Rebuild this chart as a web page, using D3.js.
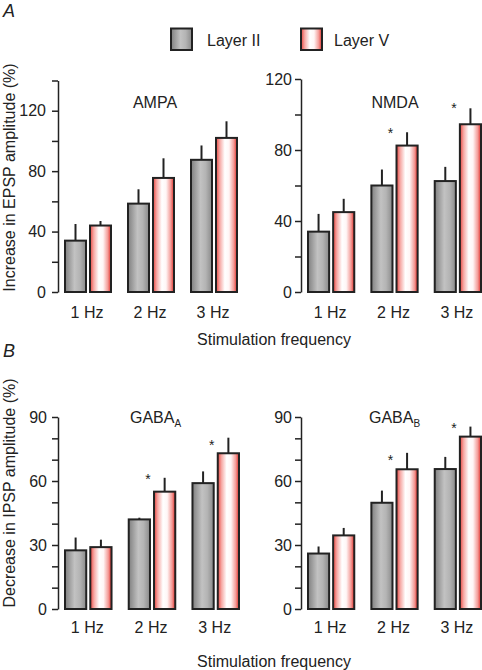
<!DOCTYPE html>
<html>
<head>
<meta charset="utf-8">
<script src="https://cdn.jsdelivr.net/npm/d3@7"></script>
<style>
  html, body { margin: 0; padding: 0; background: #fff; }
  svg { display: block; }
  text { font-family: "Liberation Sans", Arial, sans-serif; fill: #222; }
</style>
</head>
<body>
<svg id="chart" width="482" height="670"></svg>
<script>
// ---------- data ----------
const categories = ["1 Hz", "2 Hz", "3 Hz"];
const seriesNames = ["Layer II", "Layer V"];

const ampaL2    = [34, 58.5, 87.5];
const ampaL2Err = [45, 68, 97];
const ampaL5    = [44, 75.5, 102];
const ampaL5Err = [47, 88.5, 113];
const ampaSig   = [null, null, null];

const nmdaL2    = [34, 60, 62.5];
const nmdaL2Err = [44, 69, 70.5];
const nmdaL5    = [45, 82.5, 94.5];
const nmdaL5Err = [52.5, 90, 103.5];
const nmdaSig   = [null, 91.3, 105.4];

const gabaAL2    = [27.5, 42, 59];
const gabaAL2Err = [33.5, 42.8, 64.5];
const gabaAL5    = [29, 55, 73];
const gabaAL5Err = [32.5, 61.5, 80.3];
const gabaASig   = [null, 62.3, 78.3];

const gabaBL2    = [26, 49.8, 65.6];
const gabaBL2Err = [29.3, 55.5, 71.3];
const gabaBL5    = [34.5, 65.5, 80.8];
const gabaBL5Err = [38, 73.2, 85.5];
const gabaBSig   = [null, 71.3, 86.3];

const yTicksA1 = d3.range(0, 141, 20), yLabelsA1 = [0, 40, 80, 120];
const yTicksA2 = d3.range(0, 121, 20), yLabelsA2 = [0, 40, 80, 120];
const yTicksB  = d3.range(0, 91, 10),  yLabelsB  = [0, 30, 60, 90];

// ---------- drawing ----------
const svg = d3.select("#chart");
const FONT = 16;
const defs = svg.append("defs");

const g1 = defs.append("linearGradient").attr("id", "gradGray")
  .attr("x1", 0).attr("x2", 1).attr("y1", 0).attr("y2", 0);
[[0, "#808080"], [0.45, "#c2c2c2"], [0.7, "#b4b4b4"], [1, "#8a8a8a"]]
  .forEach(([o, c]) => g1.append("stop").attr("offset", o).attr("stop-color", c));
const g2 = defs.append("linearGradient").attr("id", "gradRed")
  .attr("x1", 0).attr("x2", 1).attr("y1", 0).attr("y2", 0);
[[0, "#e8453f"], [0.18, "#f6a9a5"], [0.42, "#ffffff"], [0.62, "#fff6f6"], [0.85, "#f39a96"], [1, "#de2a24"]]
  .forEach(([o, c]) => g2.append("stop").attr("offset", o).attr("stop-color", c));
const fills = ["url(#gradGray)", "url(#gradRed)"];

function panel(opt) {
  const x = d3.scaleBand().domain(categories)
    .range([opt.x0, opt.x1]).paddingInner(17 / 63).paddingOuter(0);
  const xs = d3.scaleBand().domain(seriesNames)
    .range([0, x.bandwidth()]).paddingInner(4 / 25).paddingOuter(0);
  const y = d3.scaleLinear().domain(opt.domain).range([opt.yBottom, opt.yTop]);

  const axis = d3.axisLeft(y).tickValues(opt.ticks)
    .tickFormat(d => opt.labels.includes(d) ? d : "")
    .tickSize(6).tickSizeOuter(0).tickPadding(opt.pad);
  const ag = svg.append("g").attr("transform", `translate(${opt.axisX},0)`).call(axis);
  ag.select(".domain").attr("stroke", "#222").attr("stroke-width", 1.5);
  ag.selectAll(".tick line").attr("stroke", "#222").attr("stroke-width", 1.5);
  ag.selectAll(".tick text").attr("font-size", FONT).attr("fill", "#222")
    .attr("font-family", '"Liberation Sans", Arial, sans-serif');

  const means = [opt.l2, opt.l5], errs = [opt.l2e, opt.l5e];
  const gg = svg.append("g");
  seriesNames.forEach((s, si) => {
    categories.forEach((c, ci) => {
      const bx = x(c) + xs(s), bw = xs.bandwidth();
      const cx = bx + bw / 2;
      gg.append("line")
        .attr("x1", cx).attr("x2", cx)
        .attr("y1", y(means[si][ci])).attr("y2", y(errs[si][ci]))
        .attr("stroke", "#222").attr("stroke-width", 2);
      gg.append("rect")
        .attr("x", bx).attr("y", y(means[si][ci]))
        .attr("width", bw).attr("height", y(0) - y(means[si][ci]))
        .attr("fill", fills[si]).attr("stroke", "#222").attr("stroke-width", 2);
    });
  });
  // category labels
  categories.forEach(c => {
    svg.append("text").attr("x", x(c) + x.bandwidth() / 2 - 1).attr("y", opt.catY)
      .attr("text-anchor", "middle").attr("font-size", FONT).text(c);
  });
  // significance
  opt.sig.forEach((v, ci) => {
    if (v == null) return;
    const c = categories[ci];
    const gx = x(c) + xs(seriesNames[1]) - 2 - 4;
    svg.append("text").attr("x", gx).attr("y", y(v) + 8)
      .attr("text-anchor", "middle").attr("font-size", 14).text("*");
  });
  // title
  const t = svg.append("text").attr("x", opt.titleX).attr("y", opt.titleY)
    .attr("font-size", FONT).attr("text-anchor", opt.titleAnchor || "middle");
  t.append("tspan").text(opt.title);
  if (opt.sub) t.append("tspan").attr("font-size", 10).attr("dy", 4).text(opt.sub);
}

panel({ x0: 65, x1: 237, axisX: 58, domain: [0, 140], yBottom: 292, yTop: 80.5,
  ticks: yTicksA1, labels: yLabelsA1, pad: 6,
  l2: ampaL2, l2e: ampaL2Err, l5: ampaL5, l5e: ampaL5Err, sig: ampaSig,
  catY: 318, title: "AMPA", titleX: 155, titleY: 108 });
panel({ x0: 308, x1: 481, axisX: 301, domain: [0, 120], yBottom: 292, yTop: 79,
  ticks: yTicksA2, labels: yLabelsA2, pad: 3,
  l2: nmdaL2, l2e: nmdaL2Err, l5: nmdaL5, l5e: nmdaL5Err, sig: nmdaSig,
  catY: 318, title: "NMDA", titleX: 395, titleY: 108 });
panel({ x0: 65, x1: 239, axisX: 58, domain: [0, 90], yBottom: 609, yTop: 417,
  ticks: yTicksB, labels: yLabelsB, pad: 5,
  l2: gabaAL2, l2e: gabaAL2Err, l5: gabaAL5, l5e: gabaAL5Err, sig: gabaASig,
  catY: 633, title: "GABA", sub: "A", titleX: 130, titleY: 423, titleAnchor: "start" });
panel({ x0: 308, x1: 481, axisX: 301, domain: [0, 90], yBottom: 609, yTop: 417,
  ticks: yTicksB, labels: yLabelsB, pad: 3,
  l2: gabaBL2, l2e: gabaBL2Err, l5: gabaBL5, l5e: gabaBL5Err, sig: gabaBSig,
  catY: 633, title: "GABA", sub: "B", titleX: 369, titleY: 423, titleAnchor: "start" });

// x-axis titles
[345, 667].forEach(yy => svg.append("text").attr("x", 274).attr("y", yy)
  .attr("text-anchor", "middle").attr("font-size", FONT).text("Stimulation frequency"));

// y-axis titles
[["Increase in EPSP amplitude (%)", 177.5], ["Decrease in IPSP amplitude (%)", 493]]
  .forEach(([t, cy]) => svg.append("text")
    .attr("transform", `translate(14.5,${cy}) rotate(-90)`)
    .attr("text-anchor", "middle").attr("font-size", FONT).text(t));

// panel letters
svg.append("text").attr("x", 3).attr("y", 17).attr("font-size", 18)
  .attr("font-style", "italic").text("A");
svg.append("text").attr("x", 3).attr("y", 357).attr("font-size", 18)
  .attr("font-style", "italic").text("B");

// legend
const legend = [[171, 207], [301, 334]];
seriesNames.forEach((s, i) => {
  svg.append("rect").attr("x", legend[i][0]).attr("y", 28.5).attr("width", 21).attr("height", 21.5)
    .attr("fill", fills[i]).attr("stroke", "#222").attr("stroke-width", 2);
  svg.append("text").attr("x", legend[i][1]).attr("y", 46).attr("font-size", FONT).text(s);
});
</script>
</body>
</html>
